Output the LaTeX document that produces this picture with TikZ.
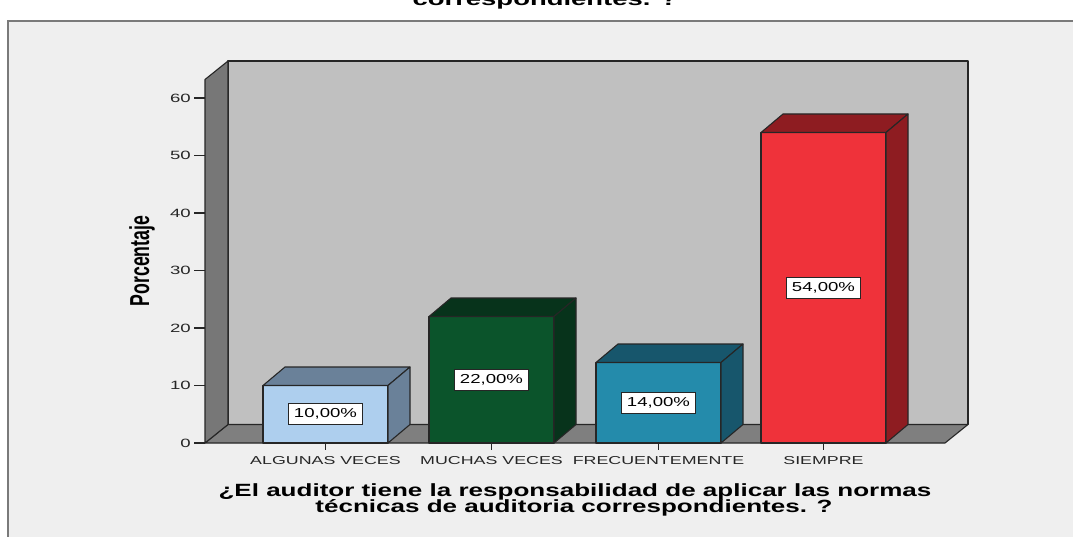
\documentclass[tikz,border=0pt]{standalone}
\usepackage{fontspec}
\setmainfont{Liberation Sans}
\usepackage{tikz}
\usetikzlibrary{calc}

\definecolor{panelbg}{HTML}{EFEFEF}
\definecolor{framegray}{HTML}{7A7A7A}
\definecolor{wallback}{HTML}{C0C0C0}
\definecolor{wallside}{HTML}{777777}
\definecolor{wallfloor}{HTML}{7F7F7F}
\definecolor{algfront}{HTML}{AECFEE}
\definecolor{algdark}{HTML}{6A8199}
\definecolor{mucfront}{HTML}{0B542B}
\definecolor{mucdark}{HTML}{07331B}
\definecolor{frefront}{HTML}{248BAB}
\definecolor{fredark}{HTML}{17566C}
\definecolor{siefront}{HTML}{EF323A}
\definecolor{siedark}{HTML}{8E1C21}

\newcommand{\widetxt}[2][1.55]{\scalebox{#1}[1]{#2}}
\newcommand{\talltxt}[1]{\scalebox{1}[1.55]{#1}}

\tikzset{
  edge/.style={draw=black!85, line width=1.1pt, line join=round},
  ticklbl/.style={anchor=east, inner sep=0pt, text=black!85, font=\fontsize{12}{14}\selectfont},
  catlbl/.style={anchor=base, inner sep=0pt, text=black!85, font=\fontsize{11.5}{13}\selectfont},
  vallbl/.style={draw=black!85, line width=0.8pt, fill=white, inner sep=0pt,
                 minimum width=74pt, minimum height=21pt, font=\fontsize{13}{15}\selectfont},
  axttl/.style={anchor=base, inner sep=0pt, font=\bfseries\fontsize{17.7}{20}\selectfont}
}

\begin{document}
\begin{tikzpicture}[x=1pt, y=-1pt]
  \useasboundingbox (0,0) rectangle (1073,537);
  \fill[white] (0,0) rectangle (1073,537);
  % chart panel
  \filldraw[fill=panelbg, draw=framegray, line width=1.5pt] (8,21) rectangle (1090,560);
  \node[axttl] (toptitle) at (545,6) {\widetxt{correspondientes. ?}};

  % walls and floor
  \filldraw[edge, fill=wallback] (228,61) rectangle (968,424.5);
  \filldraw[edge, fill=wallfloor] (205,443) -- (228,424.5) -- (968,424.5) -- (945,443) -- cycle;
  \filldraw[edge, fill=wallside] (205,443) -- (205,79.5) -- (228,61) -- (228,424.5) -- cycle;

  % value axis
  \foreach \v in {0,10,...,60} {
    \draw[line width=1.1pt, black!85] (194,{443-5.75*\v}) -- (205,{443-5.75*\v});
    \node[ticklbl] (tick\v) at (191,{443-5.75*\v}) {\widetxt{\v}};
  }
  \node[rotate=90, inner sep=0pt, font=\bfseries\fontsize{17.7}{20}\selectfont] (ylabel) at (142,261) {\talltxt{Porcentaje}};

  % ALGUNAS VECES
  \filldraw[edge, fill=algfront] (263,443) rectangle (388,385.5);
  \filldraw[edge, fill=algdark] (263,385.5) -- ++(22,-18.5) -- ++(125,0) -- ++(-22,18.5) -- cycle;
  \filldraw[edge, fill=algdark] (388,443) -- ++(22,-18.5) -- (410,367) -- (388,385.5) -- cycle;
  \node[vallbl] (alg) at (325.5,414) {\widetxt[1.43]{10,00\%}};

  % MUCHAS VECES
  \filldraw[edge, fill=mucfront] (429,443) rectangle (554,316.5);
  \filldraw[edge, fill=mucdark] (429,316.5) -- ++(22,-18.5) -- ++(125,0) -- ++(-22,18.5) -- cycle;
  \filldraw[edge, fill=mucdark] (554,443) -- ++(22,-18.5) -- (576,298) -- (554,316.5) -- cycle;
  \node[vallbl] (muc) at (491.5,380) {\widetxt[1.43]{22,00\%}};

  % FRECUENTEMENTE
  \filldraw[edge, fill=frefront] (596,443) rectangle (721,362.5);
  \filldraw[edge, fill=fredark] (596,362.5) -- ++(22,-18.5) -- ++(125,0) -- ++(-22,18.5) -- cycle;
  \filldraw[edge, fill=fredark] (721,443) -- ++(22,-18.5) -- (743,344) -- (721,362.5) -- cycle;
  \node[vallbl] (fre) at (658.5,403) {\widetxt[1.43]{14,00\%}};

  % SIEMPRE
  \filldraw[edge, fill=siefront] (761,443) rectangle (886,132.5);
  \filldraw[edge, fill=siedark] (761,132.5) -- ++(22,-18.5) -- ++(125,0) -- ++(-22,18.5) -- cycle;
  \filldraw[edge, fill=siedark] (886,443) -- ++(22,-18.5) -- (908,114) -- (886,132.5) -- cycle;
  \node[vallbl] (sie) at (823.5,287.5) {\widetxt[1.43]{54,00\%}};

  % category axis
  \foreach \cx/\nm/\txt in {325.5/c1/ALGUNAS VECES, 491.5/c2/MUCHAS VECES,
                            658.5/c3/FRECUENTEMENTE, 823.5/c4/SIEMPRE} {
    \draw[line width=1.1pt, black!85] (\cx,443) -- (\cx,450);
    \node[catlbl] (\nm) at (\cx,464) {\widetxt{\txt}};
  }

  \node[axttl] (xtitle1) at (575,496) {\widetxt[1.47]{¿El auditor tiene la responsabilidad de aplicar las normas}};
  \node[axttl] (xtitle2) at (574,512) {\widetxt[1.47]{técnicas de auditoria correspondientes. ?}};
\end{tikzpicture}
\end{document}
